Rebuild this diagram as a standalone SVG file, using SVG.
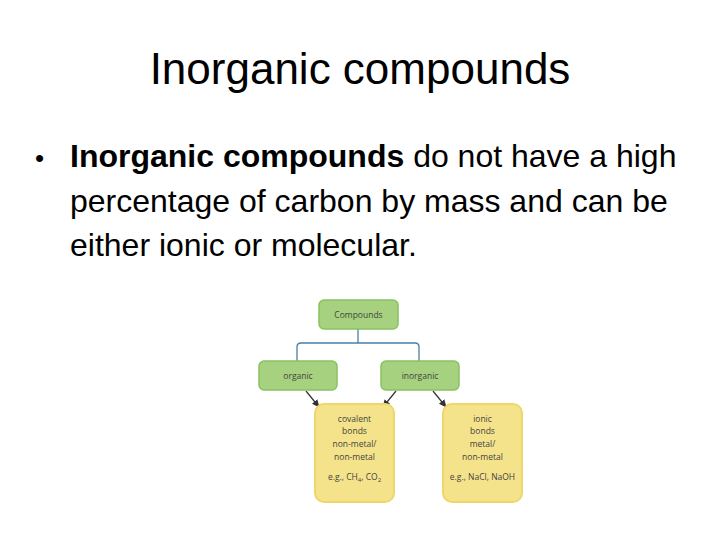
<svg xmlns="http://www.w3.org/2000/svg" width="720" height="540" viewBox="0 0 720 540">
<defs>
<style>
.t{font-family:"Liberation Sans",Arial,sans-serif;fill:#000}
.g{fill:#a6d17e;stroke:#8cc063;stroke-width:1.5}
.y{fill:#f4e38a;stroke:#efd66a;stroke-width:2}
.s{font-family:"Open Sans","DejaVu Sans",sans-serif;font-size:8.5px;fill:#444;text-anchor:middle}
.c{fill:none;stroke:#4a7fa8;stroke-width:1.3}
.a{stroke:#333;stroke-width:1.2;marker-end:url(#ah)}
</style>
<marker id="ah" markerWidth="8" markerHeight="8" refX="7" refY="4" orient="auto" markerUnits="userSpaceOnUse">
<path d="M0,0.5 L8,4 L0,7.5 Z" fill="#333"/>
</marker>
</defs>
<rect width="720" height="540" fill="#fff"/>
<text class="t" x="360" y="84" font-size="44" text-anchor="middle">Inorganic compounds</text>
<text class="t" x="35" y="167" font-size="26">•</text>
<text class="t" x="70" y="167" font-size="32"><tspan font-weight="bold">Inorganic compounds</tspan> do not have a high</text>
<text class="t" x="70" y="212" font-size="32">percentage of carbon by mass and can be</text>
<text class="t" x="70" y="256" font-size="32">either ionic or molecular.</text>
<g id="connectors">
<path class="c" d="M358,329 V343 M297,361 V347 Q297,343 301,343 H415 Q419,343 419,347 V361"/>
<line class="a" x1="306" y1="391" x2="319" y2="407"/>
<line class="a" x1="396" y1="391" x2="383" y2="407"/>
<line class="a" x1="433" y1="391" x2="446" y2="407"/>
</g>
<g id="compounds">
<rect class="g" x="319" y="300" width="79" height="29" rx="5"/>
<text class="s" x="358.5" y="318">Compounds</text>
</g>
<g id="organic">
<rect class="g" x="259" y="361" width="78" height="29" rx="5"/>
<text class="s" x="298" y="379">organic</text>
</g>
<g id="inorganic">
<rect class="g" x="381" y="361" width="78" height="29" rx="5"/>
<text class="s" x="420" y="379">inorganic</text>
</g>
<g id="covalent">
<rect class="y" x="315" y="404" width="79" height="98" rx="9"/>
<text class="s" x="354.5" y="422">covalent</text>
<text class="s" x="354.5" y="434">bonds</text>
<text class="s" x="354.5" y="447" fill="#666">non-metal/</text>
<text class="s" x="354.5" y="460" fill="#666">non-metal</text>
<text class="s" x="354.5" y="480">e.g., CH<tspan font-size="6" dy="2">4</tspan><tspan dy="-2">, CO</tspan><tspan font-size="6" dy="2">2</tspan></text>
</g>
<g id="ionic">
<rect class="y" x="443" y="404" width="79" height="98" rx="9"/>
<text class="s" x="482.5" y="422">ionic</text>
<text class="s" x="482.5" y="434">bonds</text>
<text class="s" x="482.5" y="447">metal/</text>
<text class="s" x="482.5" y="460">non-metal</text>
<text class="s" x="482.5" y="480">e.g., NaCl, NaOH</text>
</g>
</svg>
